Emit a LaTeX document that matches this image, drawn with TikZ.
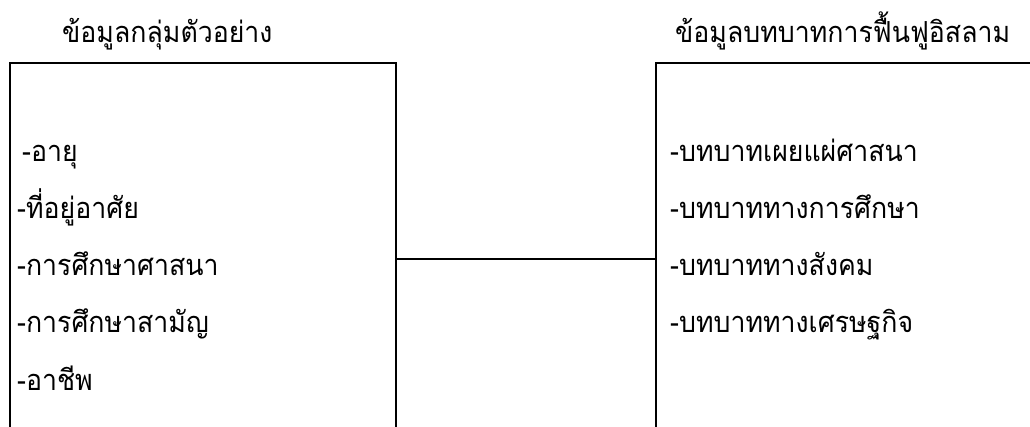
\documentclass[tikz,border=0pt]{standalone}
\usepackage{fontspec}
\newfontfamily\thaifont[Script=Thai,FakeStretch=0.92]{Loma}
\begin{document}
\begin{tikzpicture}[x=1pt,y=-1pt,
  boxline/.style={line width=2pt,line cap=butt},
  lbl/.style={anchor=base west,inner sep=0pt,font=\thaifont\fontsize{29}{33}\selectfont}]
\useasboundingbox (0,0) rectangle (1030,427);
% boxes (open at the bottom)
\coordinate (l1) at (10,427);
\coordinate (l2) at (10,63);
\coordinate (l3) at (396,63);
\coordinate (l4) at (396,427);
\coordinate (r1) at (656,427);
\coordinate (r2) at (656,63);
\coordinate (r3) at (1031,63);
\draw[boxline] (l1) -- (l2) -- (l3) -- (l4);
\draw[boxline] (r1) -- (r2) -- (r3);
\coordinate (la) at (396,259);
\coordinate (ra) at (656,259);
\draw[boxline] (la) -- (ra);
% titles
\node[lbl] (t1) at (62,43) {ข้อมูลกลุ่มตัวอย่าง};
\node[lbl] (t2) at (675,43) {ข้อมูลบทบาทการฟื้นฟูอิสลาม};
% left items
\node[lbl] (a1) at (22,162) {-อายุ};
\node[lbl] (a2) at (17,219) {-ที่อยู่อาศัย};
\node[lbl] (a3) at (17,276) {-การศึกษาศาสนา};
\node[lbl] (a4) at (17,333) {-การศึกษาสามัญ};
\node[lbl] (a5) at (17,390) {-อาชีพ};
% right items
\node[lbl] (b1) at (670,162) {-บทบาทเผยแผ่ศาสนา};
\node[lbl] (b2) at (670,219) {-บทบาททางการศึกษา};
\node[lbl] (b3) at (670,276) {-บทบาททางสังคม};
\node[lbl] (b4) at (670,333) {-บทบาททางเศรษฐกิจ};
\end{tikzpicture}
\end{document}
